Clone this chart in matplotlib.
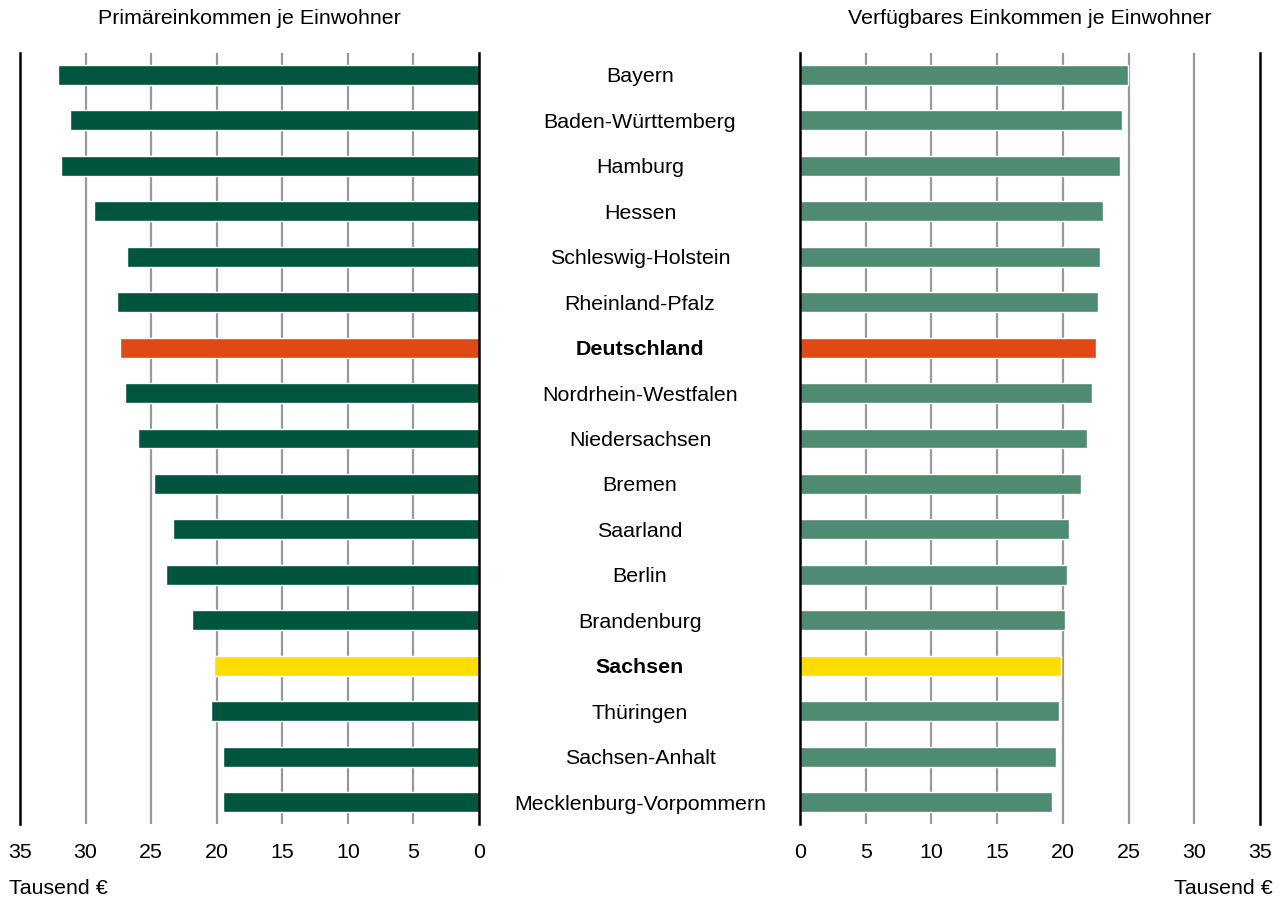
import matplotlib
matplotlib.use("Agg")
import matplotlib.pyplot as plt
from matplotlib.transforms import blended_transform_factory

plt.rcParams['font.family'] = ['Liberation Sans', 'DejaVu Sans']

regions = ["Bayern", "Baden-Württemberg", "Hamburg", "Hessen", "Schleswig-Holstein",
           "Rheinland-Pfalz", "Deutschland", "Nordrhein-Westfalen", "Niedersachsen",
           "Bremen", "Saarland", "Berlin", "Brandenburg", "Sachsen", "Thüringen",
           "Sachsen-Anhalt", "Mecklenburg-Vorpommern"]
primary = [32.1, 31.2, 31.9, 29.35, 26.85, 27.6, 27.4, 27.0, 26.0,
           24.8, 23.35, 23.9, 21.9, 20.2, 20.45, 19.5, 19.55]
disposable = [24.95, 24.5, 24.35, 23.05, 22.8, 22.7, 22.55, 22.2, 21.85,
              21.35, 20.45, 20.3, 20.15, 19.85, 19.7, 19.5, 19.15]
ticks = [0, 5, 10, 15, 20, 25, 30, 35]
title_left = "Primäreinkommen je Einwohner"
title_right = "Verfügbares Einkommen je Einwohner"
unit = "Tausend €"

DARK = "#00553F"
LIGHT = "#4F8B71"
ORANGE = "#DE4915"
YELLOW = "#FFDD00"

def colors(base):
    out = []
    for r in regions:
        if r == "Deutschland":
            out.append(ORANGE)
        elif r == "Sachsen":
            out.append(YELLOW)
        else:
            out.append(base)
    return out

W, H = 1288, 900
fig = plt.figure(figsize=(W / 100, H / 100), dpi=100)
top, bottom = 53, 824
axL = fig.add_axes([20 / W, (H - bottom) / H, 459 / W, (bottom - top) / H])
axR = fig.add_axes([800 / W, (H - bottom) / H, 460 / W, (bottom - top) / H])

n = len(regions)
pos = list(range(n))
margin = 0.484
FS = 15.4

for ax, vals, base, title in [(axL, primary, DARK, title_left), (axR, disposable, LIGHT, title_right)]:
    ax.barh(pos, vals, height=0.44, color=colors(base), edgecolor="white", linewidth=1.0, zorder=3)
    ax.set_xlim(0, 35)
    ax.set_ylim(n - 1 + margin, -margin)
    for t in ticks:
        if t in (0, 35):
            ax.axvline(t, color="black", lw=1.8, zorder=4 if t == 0 else 2, clip_on=False)
        else:
            ax.axvline(t, color="#999999", lw=1.6, zorder=1)
    for s in ax.spines.values():
        s.set_visible(False)
    ax.set_yticks([])
    ax.set_xticks(ticks)
    ax.set_xticklabels([str(t) for t in ticks], fontsize=FS)
    ax.tick_params(axis="x", length=0, pad=14)
    ax.set_title(title, fontsize=FS, pad=21)

axL.invert_xaxis()

tr = blended_transform_factory(fig.transFigure, axL.transData)
for i, r in enumerate(regions):
    bold = r in ("Deutschland", "Sachsen")
    fig.text(640 / W, i, r, transform=tr, ha="center", va="center_baseline", fontsize=FS,
             fontweight="bold" if bold else "normal")

fig.text(9 / W, 1 - 888 / H, unit, ha="left", va="center", fontsize=FS)
fig.text(1273 / W, 1 - 888 / H, unit, ha="right", va="center", fontsize=FS)

fig.savefig("out.png", dpi=100)
